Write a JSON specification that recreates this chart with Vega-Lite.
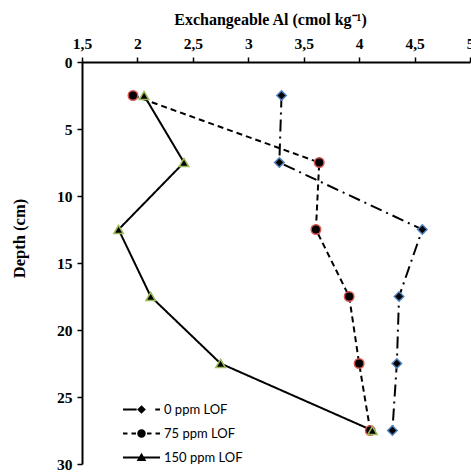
{
  "$schema": "https://vega.github.io/schema/vega-lite/v6.json",
  "width": 388,
  "height": 402,
  "autosize": "none",
  "padding": {"left": 82, "top": 62, "right": 1, "bottom": 9},
  "background": "white",
  "config": {
    "view": {"stroke": null},
    "axis": {
      "grid": false,
      "domainColor": "black",
      "domainWidth": 2,
      "tickColor": "black",
      "tickWidth": 1.5,
      "tickSize": 5,
      "labelFont": "Liberation Serif",
      "labelFontWeight": "bold",
      "labelFontSize": 15.5,
      "labelColor": "black",
      "titleFont": "Liberation Serif",
      "titleFontWeight": "bold",
      "titleFontSize": 16,
      "titleColor": "black",
      "labelFlush": false,
      "labelOverlap": false
    }
  },
  "data": {
    "values": [
      {"series": "0 ppm LOF", "depth": 2.5, "al": 3.30},
      {"series": "0 ppm LOF", "depth": 7.5, "al": 3.28},
      {"series": "0 ppm LOF", "depth": 12.5, "al": 4.57},
      {"series": "0 ppm LOF", "depth": 17.5, "al": 4.36},
      {"series": "0 ppm LOF", "depth": 22.5, "al": 4.34},
      {"series": "0 ppm LOF", "depth": 27.5, "al": 4.30},
      {"series": "75 ppm LOF", "depth": 2.5, "al": 1.96},
      {"series": "75 ppm LOF", "depth": 7.5, "al": 3.64},
      {"series": "75 ppm LOF", "depth": 12.5, "al": 3.61},
      {"series": "75 ppm LOF", "depth": 17.5, "al": 3.91},
      {"series": "75 ppm LOF", "depth": 22.5, "al": 4.00},
      {"series": "75 ppm LOF", "depth": 27.5, "al": 4.10},
      {"series": "150 ppm LOF", "depth": 2.5, "al": 2.06},
      {"series": "150 ppm LOF", "depth": 7.5, "al": 2.42},
      {"series": "150 ppm LOF", "depth": 12.5, "al": 1.83},
      {"series": "150 ppm LOF", "depth": 17.5, "al": 2.12},
      {"series": "150 ppm LOF", "depth": 22.5, "al": 2.75},
      {"series": "150 ppm LOF", "depth": 27.5, "al": 4.12}
    ]
  },
  "encoding": {
    "x": {
      "field": "al",
      "type": "quantitative",
      "scale": {"domain": [1.5, 5], "nice": false, "zero": false},
      "axis": {
        "orient": "top",
        "title": "Exchangeable Al (cmol kg⁻¹)",
        "values": [1.5, 2, 2.5, 3, 3.5, 4, 4.5, 5],
        "labelExpr": "replace(format(datum.value, '~g'), '.', ',')",
        "labelPadding": 6,
        "titleX": 188,
        "titleY": -43,
        "titleBaseline": "middle"
      }
    },
    "y": {
      "field": "depth",
      "type": "quantitative",
      "scale": {"domain": [0, 30], "reverse": true, "nice": false, "zero": false},
      "axis": {
        "title": "Depth (cm)",
        "values": [0, 5, 10, 15, 20, 25, 30],
        "labelPadding": 5,
        "titleFontSize": 16.5,
        "titleX": -63,
        "titleY": 176,
        "titleBaseline": "middle",
        "titleAlign": "center",
        "titleAngle": -90
      }
    }
  },
  "resolve": {"scale": {"shape": "independent"}, "legend": {"shape": "independent"}},
  "layer": [
    {
      "mark": {"type": "line", "color": "black", "strokeWidth": 2},
      "encoding": {
        "order": {"field": "depth", "type": "quantitative"},
        "strokeDash": {
          "field": "series",
          "type": "nominal",
          "scale": {
            "domain": ["150 ppm LOF", "75 ppm LOF", "0 ppm LOF"],
            "range": [[1, 0], [6, 4], [12, 5, 2, 5]]
          },
          "legend": null
        }
      }
    },
    {
      "mark": {"type": "point", "filled": true, "fill": "black", "opacity": 1, "strokeWidth": 1.5, "size": 90},
      "encoding": {
        "stroke": {
          "field": "series",
          "type": "nominal",
          "scale": {
            "domain": ["75 ppm LOF", "0 ppm LOF", "150 ppm LOF"],
            "range": ["#d9534f", "#4f81bd", "#9bbb59"]
          },
          "legend": null
        },
        "shape": {
          "field": "series",
          "type": "nominal",
          "scale": {
            "domain": ["150 ppm LOF", "0 ppm LOF", "75 ppm LOF"],
            "range": ["triangle-up", "diamond", "circle"]
          },
          "legend": null
        }
      }
    },
    {
      "mark": {"type": "point", "filled": true, "fill": "black", "opacity": 0, "size": 529},
      "encoding": {
        "shape": {
          "field": "series",
          "type": "nominal",
          "scale": {
            "domain": ["0 ppm LOF", "75 ppm LOF", "150 ppm LOF"],
            "range": [
              "M-1.61,-0.085H-0.42V0.085H-1.61ZM0,-0.38L0.38,0L0,0.38L-0.38,0ZM1.2,-0.085H1.61V0.085H1.2Z",
              "M-1.61,-0.085H-1.22V0.085H-1.61ZM-0.87,-0.085H-0.48V0.085H-0.87ZM-0.37,0A0.37,0.37,0,1,1,0.37,0A0.37,0.37,0,1,1,-0.37,0ZM0.48,-0.085H0.87V0.085H0.48ZM1.22,-0.085H1.61V0.085H1.22Z",
              "M-1.61,-0.085H1.61V0.085H-1.61ZM0,-0.42L0.42,0.3L-0.42,0.3Z"
            ]
          },
          "legend": {
            "title": null,
            "orient": "none",
            "legendX": 47,
            "legendY": 335,
            "padding": 0,
            "labelFont": "Lato",
            "labelFontSize": 13,
            "labelColor": "black",
            "labelOffset": 10,
            "symbolSize": 529,
            "symbolFillColor": "black",
            "symbolOpacity": 1,
            "rowPadding": 4
          }
        }
      }
    }
  ]
}
